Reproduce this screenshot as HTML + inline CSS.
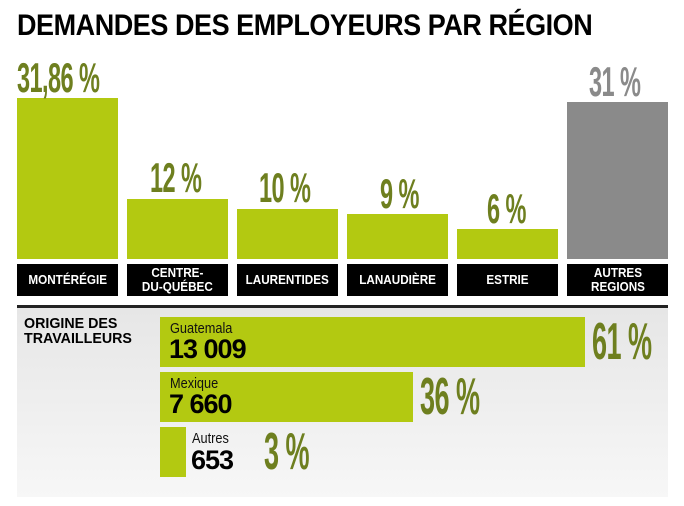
<!DOCTYPE html>
<html><head><meta charset="utf-8"><style>
body{margin:0;width:684px;height:506px;background:#fff;position:relative;overflow:hidden;font-family:"Liberation Sans",sans-serif}
.a{position:absolute}
.bar{position:absolute;background:#b3c911}
.pct{position:absolute;font-weight:bold;color:#6e7f1f;font-size:42px;line-height:42px;transform:scaleX(0.56);transform-origin:left top;white-space:nowrap;letter-spacing:-1px}
.big{font-size:52px;line-height:52px;transform:scaleX(0.52)}
.lab{position:absolute;top:264px;height:32px;width:101px;background:#000;color:#fff;font-weight:bold;font-size:13px;line-height:14px;display:flex;align-items:center;justify-content:center;text-align:center}
.lab span{display:inline-block;transform:scaleX(0.9)}
.nm{position:absolute;font-size:15px;transform:scaleX(0.85);transform-origin:left top;color:#111}
.num{position:absolute;font-size:27px;font-weight:bold;color:#000;letter-spacing:-1px;transform:scaleX(1.0);transform-origin:left top}
</style></head><body>
<div class="a" style="left:17px;top:9px;font-size:30px;font-weight:bold;transform:scaleX(0.9);transform-origin:left top;white-space:nowrap;letter-spacing:-0.5px">DEMANDES DES EMPLOYEURS PAR RÉGION</div>

<div class="bar" style="left:17px;top:98px;width:101px;height:161px"></div>
<div class="bar" style="left:127px;top:199px;width:101px;height:60px"></div>
<div class="bar" style="left:237px;top:209px;width:101px;height:50px"></div>
<div class="bar" style="left:347px;top:214px;width:101px;height:45px"></div>
<div class="bar" style="left:457px;top:229px;width:101px;height:30px"></div>
<div class="bar" style="left:567px;top:102px;width:101px;height:157px;background:#8a8a8a"></div>

<div class="pct" style="left:17px;top:57px">31,86 %</div>
<div class="pct" style="left:150px;top:157px">12 %</div>
<div class="pct" style="left:259px;top:167px">10 %</div>
<div class="pct" style="left:380px;top:173px">9 %</div>
<div class="pct" style="left:487px;top:188px">6 %</div>
<div class="pct" style="left:589px;top:61px;color:#8a8a8a">31 %</div>

<div class="lab" style="left:17px"><span>MONTÉRÉGIE</span></div>
<div class="lab" style="left:127px"><span>CENTRE-<br>DU-QUÉBEC</span></div>
<div class="lab" style="left:237px"><span>LAURENTIDES</span></div>
<div class="lab" style="left:347px"><span>LANAUDIÈRE</span></div>
<div class="lab" style="left:457px"><span>ESTRIE</span></div>
<div class="lab" style="left:567px"><span>AUTRES<br>REGIONS</span></div>

<div class="a" style="left:17px;top:305px;width:651px;height:3px;background:#222"></div>
<div class="a" style="left:17px;top:308px;width:651px;height:189px;background:linear-gradient(#e6e6e6,#f7f7f7)"></div>

<div class="a" style="left:24px;top:316px;font-size:15px;font-weight:bold;line-height:15px;transform:scaleX(0.95);transform-origin:left top">ORIGINE DES<br>TRAVAILLEURS</div>

<div class="bar" style="left:160px;top:317px;width:425px;height:50px"></div>
<div class="nm" style="left:170px;top:320px">Guatemala</div>
<div class="num" style="left:169px;top:334px">13 009</div>
<div class="pct big" style="left:592px;top:316px">61 %</div>

<div class="bar" style="left:160px;top:372px;width:253px;height:50px"></div>
<div class="nm" style="left:170px;top:375px">Mexique</div>
<div class="num" style="left:169px;top:389px">7 660</div>
<div class="pct big" style="left:420px;top:371px">36 %</div>

<div class="bar" style="left:160px;top:427px;width:26px;height:50px"></div>
<div class="nm" style="left:192px;top:430px">Autres</div>
<div class="num" style="left:191px;top:445px">653</div>
<div class="pct big" style="left:264px;top:426px">3 %</div>
</body></html>
